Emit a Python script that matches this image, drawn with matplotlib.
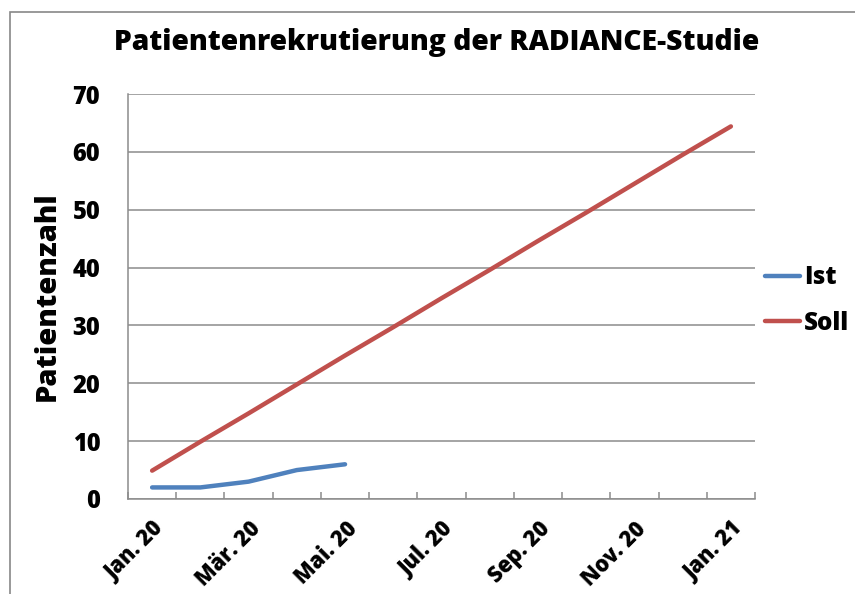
import matplotlib.pyplot as plt
from matplotlib.patches import Rectangle

# Monate (Kategorien) und Werte
months = ['Jan. 20', 'Feb. 20', 'Mär. 20', 'Apr. 20', 'Mai. 20', 'Jun. 20', 'Jul. 20',
          'Aug. 20', 'Sep. 20', 'Okt. 20', 'Nov. 20', 'Dez. 20', 'Jan. 21']
ist = [2, 2, 3, 5, 6]
soll = [4.9, 9.9, 14.8, 19.8, 24.8, 29.7, 34.7, 39.6, 44.6, 49.5, 54.5, 59.5, 64.4]

plt.rcParams['font.family'] = ['Open Sans', 'DejaVu Sans']
plt.rcParams['font.weight'] = 'bold'

fig = plt.figure(figsize=(8.55, 5.94), dpi=100)
ax = fig.add_axes([128 / 855, 1 - 499 / 594, 627 / 855, 405 / 594])

# grauer Rahmen um das Diagramm
fig.patches.append(Rectangle((10 / 855, -0.1), 1.0, 1 - 12 / 594 + 0.1, transform=fig.transFigure,
                             fill=False, edgecolor='#888888', linewidth=1.2))

x_ist = list(range(len(ist)))
x_soll = list(range(len(soll)))
ax.plot(x_ist, ist, color='#4F81BD', linewidth=3.2, label='Ist', solid_capstyle='round')
ax.plot(x_soll, soll, color='#C0504D', linewidth=3.2, label='Soll', solid_capstyle='round')

ax.set_xlim(-0.5, len(months) - 0.5)
ax.set_ylim(0, 70)
ax.set_yticks(range(0, 71, 10))
ax.yaxis.grid(True, color='#8c8c8c', linewidth=1.1)
ax.set_axisbelow(True)

# Ticks an Kategoriegrenzen, Beschriftung jeden zweiten Monat
ax.set_xticks([i - 0.5 for i in range(len(months) + 1)])
ax.set_xticklabels([])
ax.set_xticks(range(0, len(months), 2), minor=True)
ax.set_xticklabels(months[::2], minor=True, rotation=45, ha='right', rotation_mode='anchor',
                   fontsize=15.5, fontweight='heavy')
ax.tick_params(axis='x', which='major', direction='in', length=5, color='#8c8c8c', width=1.1)
ax.tick_params(axis='x', which='minor', length=0, pad=13)
ax.tick_params(axis='y', length=0, pad=20, labelsize=17)
for lbl in ax.get_yticklabels():
    lbl.set_fontweight('heavy')

for side in ['top', 'right']:
    ax.spines[side].set_visible(False)
for side in ['left', 'bottom']:
    ax.spines[side].set_color('#8c8c8c')
    ax.spines[side].set_linewidth(1.1)

ax.set_ylabel('Patientenzahl', fontsize=21, fontweight='heavy', labelpad=8)
fig.suptitle('Patientenrekrutierung der RADIANCE-Studie', fontsize=20.3, fontweight='heavy',
             x=437 / 855, y=1 - 28 / 594, va='top')

ax.legend(loc='center left', bbox_to_anchor=(0.981, 0.49), frameon=False,
          handlelength=1.45, handletextpad=0.15, labelspacing=0.85,
          prop={'weight': 'heavy', 'size': 17.5})

fig.savefig('out.png', dpi=100)
